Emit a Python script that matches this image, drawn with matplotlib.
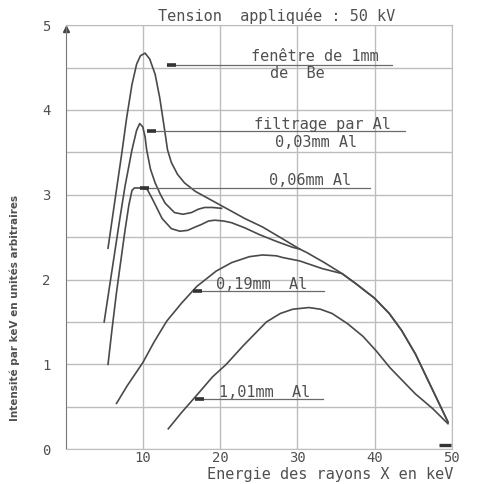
"""Spectre X d'un tube sous 50 kV, filtrage par Al."""

import matplotlib
matplotlib.use("Agg")
import matplotlib.pyplot as plt

be_kev = [5.5, 6.5, 7.3, 7.9, 8.6, 9.2, 9.7, 10.3, 10.9, 11.6, 12.2, 12.8, 13.2, 13.7, 14.5, 15.4, 16.8, 18.4, 20.6, 23.2, 25.5, 28.1, 30.3, 31.2, 33.5, 35.8, 37.6, 40.0, 41.9, 43.5, 45.3, 47.4, 49.5]
be_int = [2.37, 3.0, 3.5, 3.9, 4.3, 4.54, 4.64, 4.67, 4.6, 4.42, 4.14, 3.78, 3.53, 3.38, 3.24, 3.14, 3.04, 2.96, 2.85, 2.72, 2.62, 2.48, 2.36, 2.32, 2.2, 2.07, 1.95, 1.78, 1.6, 1.4, 1.12, 0.72, 0.32]

al003_kev = [5.0, 6.0, 7.0, 7.7, 8.6, 9.2, 9.6, 10.0, 10.3, 10.5, 11.0, 11.6, 12.3, 12.9, 14.1, 15.2, 16.3, 17.2, 18.0, 19.0, 20.2]
al003_int = [1.5, 2.1, 2.7, 3.1, 3.53, 3.76, 3.84, 3.8, 3.68, 3.53, 3.3, 3.14, 3.0, 2.9, 2.79, 2.77, 2.79, 2.83, 2.85, 2.85, 2.84]

al006_kev = [5.5, 6.0, 6.6, 7.2, 7.7, 8.2, 8.6, 8.9, 10.0, 10.6, 11.3, 12.5, 13.7, 14.8, 15.8, 16.8, 17.6, 18.5, 19.3, 20.5, 21.5, 23.2, 25.1, 27.3, 29.4, 30.3]
al006_int = [1.0, 1.4, 1.85, 2.25, 2.58, 2.88, 3.05, 3.08, 3.08, 3.06, 2.94, 2.72, 2.6, 2.57, 2.58, 2.62, 2.65, 2.69, 2.7, 2.69, 2.67, 2.61, 2.53, 2.45, 2.38, 2.36]

al019_kev = [6.6, 8.0, 10.0, 11.5, 13.1, 15.0, 17.0, 19.5, 21.5, 23.8, 25.5, 27.3, 28.1, 30.3, 33.2, 35.8, 37.6, 40.0, 41.9, 43.5, 45.3, 47.4, 49.5]
al019_int = [0.54, 0.75, 1.02, 1.27, 1.51, 1.72, 1.92, 2.1, 2.2, 2.27, 2.29, 2.28, 2.26, 2.22, 2.13, 2.07, 1.95, 1.78, 1.6, 1.4, 1.12, 0.72, 0.32]

al101_kev = [13.3, 15.0, 17.4, 19.0, 20.8, 23.0, 26.0, 27.8, 29.4, 31.5, 33.0, 34.5, 36.5, 38.5, 40.2, 42.0, 43.7, 45.3, 47.5, 49.5]
al101_int = [0.24, 0.43, 0.68, 0.85, 1.0, 1.22, 1.5, 1.6, 1.65, 1.67, 1.65, 1.6, 1.48, 1.33, 1.16, 0.96, 0.8, 0.65, 0.48, 0.3]

x_ticks = [10, 20, 30, 40, 50]
y_ticks = [0, 1, 2, 3, 4, 5]

# etiquettes : lignes de texte, (x, y) du texte, trait de rappel (x debut, x fin, y)
labels = [
    (["fenêtre de 1mm", "de  Be"], [(32.3, 4.58), (30.0, 4.38)], (13.1, 42.2, 4.53)),
    (["filtrage par Al", "0,03mm Al"], [(33.3, 3.78), (32.4, 3.56)], (10.5, 43.9, 3.75)),
    (["0,06mm Al"], [(31.6, 3.11)], (9.6, 39.4, 3.08)),
    (["0,19mm  Al"], [(25.4, 1.89)], (16.5, 33.5, 1.86)),
    (["1,01mm  Al"], [(25.8, 0.62)], (16.75, 33.3, 0.59)),
]

INK = "#4a4a4a"
GRID = "#bdbdbd"
MONO = "DejaVu Sans Mono"

fig = plt.figure(figsize=(4.89, 4.84), dpi=100)
ax = fig.add_axes([0.134, 0.072, 0.790, 0.876])
ax.set_xlim(0, 50); ax.set_ylim(0, 5)

ax.set_xticks(x_ticks); ax.set_yticks(y_ticks)
ax.set_yticks([v + 0.5 for v in y_ticks[:-1]], minor=True)
ax.grid(which="both", color=GRID, linewidth=1.0)
ax.tick_params(which="both", length=0, colors="#505050")
ax.tick_params(axis="x", pad=1.5); ax.tick_params(axis="y", pad=11)
for lab in ax.get_xticklabels() + ax.get_yticklabels():
    lab.set_family(MONO); lab.set_fontsize(10)
for side in ["top", "right", "bottom"]:
    ax.spines[side].set_color(GRID)
ax.spines["left"].set_color("#777777")

for kev, inten in [(be_kev, be_int), (al003_kev, al003_int), (al006_kev, al006_int), (al019_kev, al019_int), (al101_kev, al101_int)]:
    ax.plot(kev, inten, color=INK, linewidth=1.2, solid_joinstyle="round")

for lines, spots, (x0, x1, y) in labels:
    ax.plot([x0, x1], [y, y], color="#6a6a6a", linewidth=0.9)
    ax.plot([x0, x0 + 1.2], [y, y], color="#333333", linewidth=2.6, solid_capstyle="butt")
    for text, (tx, ty) in zip(lines, spots):
        ax.text(tx, ty, text, family=MONO, fontsize=11, color="#505050", ha="center", va="baseline")

# fleches des axes
ax.plot([0.1], [4.96], marker="^", markersize=5, color="#444444", clip_on=False)
ax.plot([48.4, 49.9], [0.05, 0.05], color="#333333", linewidth=2.4, solid_capstyle="butt")

fig.text(0.566, 0.967, "Tension  appliquée : 50 kV", family=MONO, fontsize=11, color="#505050", ha="center", va="center")
fig.text(0.675, 0.02, "Energie des rayons X en keV", family=MONO, fontsize=11, color="#505050", ha="center", va="center")
fig.text(0.031, 0.364, "Intensité par keV en unités arbitraires", family="DejaVu Sans", fontsize=7.5, fontweight="bold", color="#505050", rotation=90, ha="center", va="center")

fig.savefig("out.png", dpi=100)
